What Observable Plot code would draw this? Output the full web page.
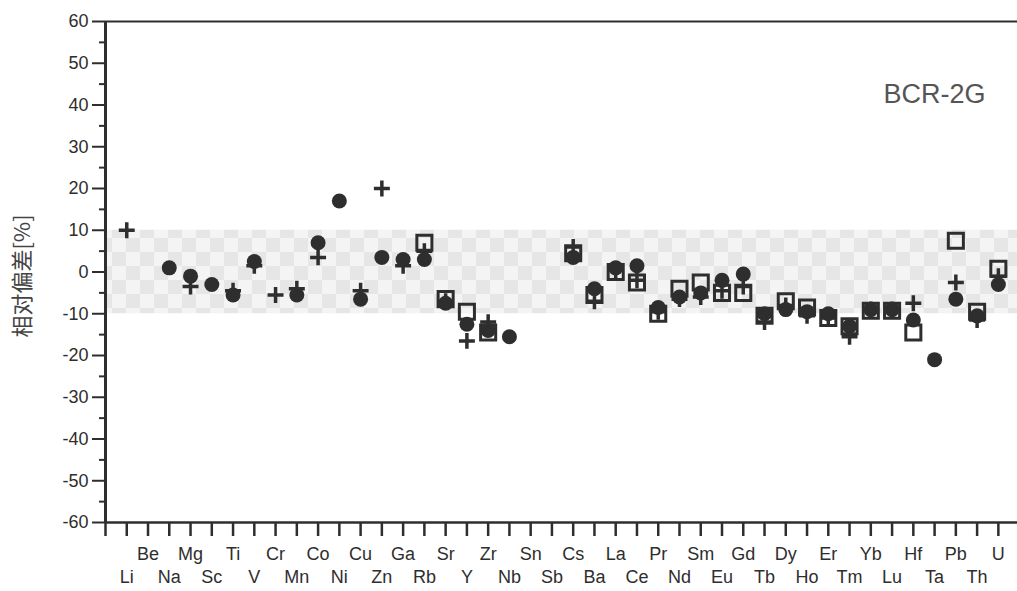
<!DOCTYPE html>
<html><head><meta charset="utf-8">
<script src="https://cdn.jsdelivr.net/npm/d3@7"></script>
<script src="https://cdn.jsdelivr.net/npm/@observablehq/plot@0.6"></script>
<style>body{margin:0;background:#fff}</style>
</head><body><div id="chart"></div>
<script>
const elements = ["Li","Be","Na","Mg","Sc","Ti","V","Cr","Mn","Co","Ni","Cu","Zn","Ga","Rb","Sr","Y","Zr","Nb","Sn","Sb","Cs","Ba","La","Ce","Pr","Nd","Sm","Eu","Gd","Tb","Dy","Ho","Er","Tm","Yb","Lu","Hf","Ta","Pb","Th","U"];
const circleVals = [null,null,1,-1,-3,-5.5,2.5,null,-5.5,7,17,-6.5,3.5,3,3,-7.5,-12.5,-14,-15.5,null,null,3.5,-4,1,1.5,-8.5,-6,-5,-2,-0.5,-10,-9,-9.5,-10,-13,-9,-9,-11.5,-21,-6.5,-10.5,-3];
const plusVals   = [10,null,null,-3.5,null,-4.5,1.5,-5.5,-4,3.5,null,-4.5,20,1.5,5,-7,-16.5,-12,null,null,null,6,-7,0.5,-2,-9.5,-6.5,-6,-4.5,-3.5,-12,-8,-10.5,-11,-15.5,-9,-9,-7.5,null,-2.5,-11.5,-1];
const squareVals = [null,null,null,null,null,null,null,null,null,null,null,null,null,null,7,-6.5,-9.5,-14.5,null,null,null,4.5,-5.5,0,-2.5,-10,-4,-2.5,-5,-5,-10.5,-7,-8.5,-11,-13,-9.3,-9.3,-14.5,null,7.5,-9.5,0.8];
const yTicks = d3.range(-60, 61, 10);
const yMinor = d3.range(-55, 60, 10);
const xExtent = [-1, 41.9];
const bandLimits = [-10, 10];
const sampleName = "BCR-2G";
const yLabel = "相对偏差[%]";

const rows = vals => vals.map((v, i) => ({i, v})).filter(d => d.v != null);
const ink = "#2e2e2e";

const patternMark = () => {
  const ns = "http://www.w3.org/2000/svg";
  const defs = document.createElementNS(ns, "defs");
  const pat = document.createElementNS(ns, "pattern");
  pat.setAttribute("id", "chk");
  pat.setAttribute("patternUnits", "userSpaceOnUse");
  pat.setAttribute("width", "28"); pat.setAttribute("height", "28");
  const mk = (x, y, w, h, f) => { const r = document.createElementNS(ns, "rect"); r.setAttribute("x", x); r.setAttribute("y", y); r.setAttribute("width", w); r.setAttribute("height", h); r.setAttribute("fill", f); pat.appendChild(r); };
  mk(0, 0, 28, 28, "#f4f4f4");
  mk(0, 0, 14, 14, "#e6e6e6");
  mk(14, 14, 14, 14, "#e6e6e6");
  defs.appendChild(pat);
  return defs;
};

const plot = Plot.plot({
  width: 1017, height: 591,
  marginLeft: 105, marginRight: 0, marginTop: 21, marginBottom: 69,
  style: {fontFamily: "'Liberation Sans', Arial, sans-serif", fontSize: "18px", color: ink, background: "#fff"},
  x: {domain: xExtent, axis: null},
  y: {domain: [-60, 60], axis: null},
  marks: [
    patternMark,
    Plot.rect([bandLimits], {x1: xExtent[0], x2: xExtent[1], y1: d => d[0], y2: d => d[1], fill: "url(#chk)"}),
    Plot.ruleY([60], {stroke: ink, strokeWidth: 2}),
    Plot.ruleY([-60], {stroke: ink, strokeWidth: 2.5}),
    Plot.ruleX([xExtent[0]], {stroke: ink, strokeWidth: 3}),
    Plot.axisY({ticks: yTicks, tickSize: 13, tickPadding: 4, tickFormat: d => String(d), label: null, fontSize: 18, stroke: ink, fill: ink, strokeWidth: 2}),
    Plot.axisY({ticks: yMinor, tickSize: 6, tickFormat: () => "", label: null, stroke: ink, strokeWidth: 2}),
    Plot.axisX({ticks: d3.range(-1, 42), tickSize: 14, tickFormat: () => "", label: null, stroke: ink, strokeWidth: 2.5}),
    Plot.axisX({ticks: d3.range(1, 42, 2), tickSize: 0, tickPadding: 25, tickFormat: i => elements[i], label: null, fontSize: 18, fill: ink}),
    Plot.axisX({ticks: d3.range(0, 42, 2), tickSize: 0, tickPadding: 48, tickFormat: i => elements[i], label: null, fontSize: 18, fill: ink}),
    Plot.dot(rows(circleVals), {x: "i", y: "v", r: 7.5, fill: ink, stroke: "none"}),
    Plot.dot(rows(plusVals), {x: "i", y: "v", symbol: "plus", r: 5.2, stroke: ink, strokeWidth: 3.5}),
    Plot.dot(rows(squareVals), {x: "i", y: "v", symbol: "square", r: 8.5, fill: "none", stroke: ink, strokeWidth: 3}),
    Plot.text([sampleName], {frameAnchor: "top-right", dx: -32, dy: 62, fontSize: 27, fill: "#555"}),
    Plot.text([yLabel], {frameAnchor: "left", dx: -83, dy: 4, rotate: -90, textAnchor: "middle", lineAnchor: "middle", fontSize: 22, fill: "#444", fontFamily: "'Noto Sans CJK SC', sans-serif"})
  ]
});
document.getElementById("chart").appendChild(plot);
</script>
</body></html>
